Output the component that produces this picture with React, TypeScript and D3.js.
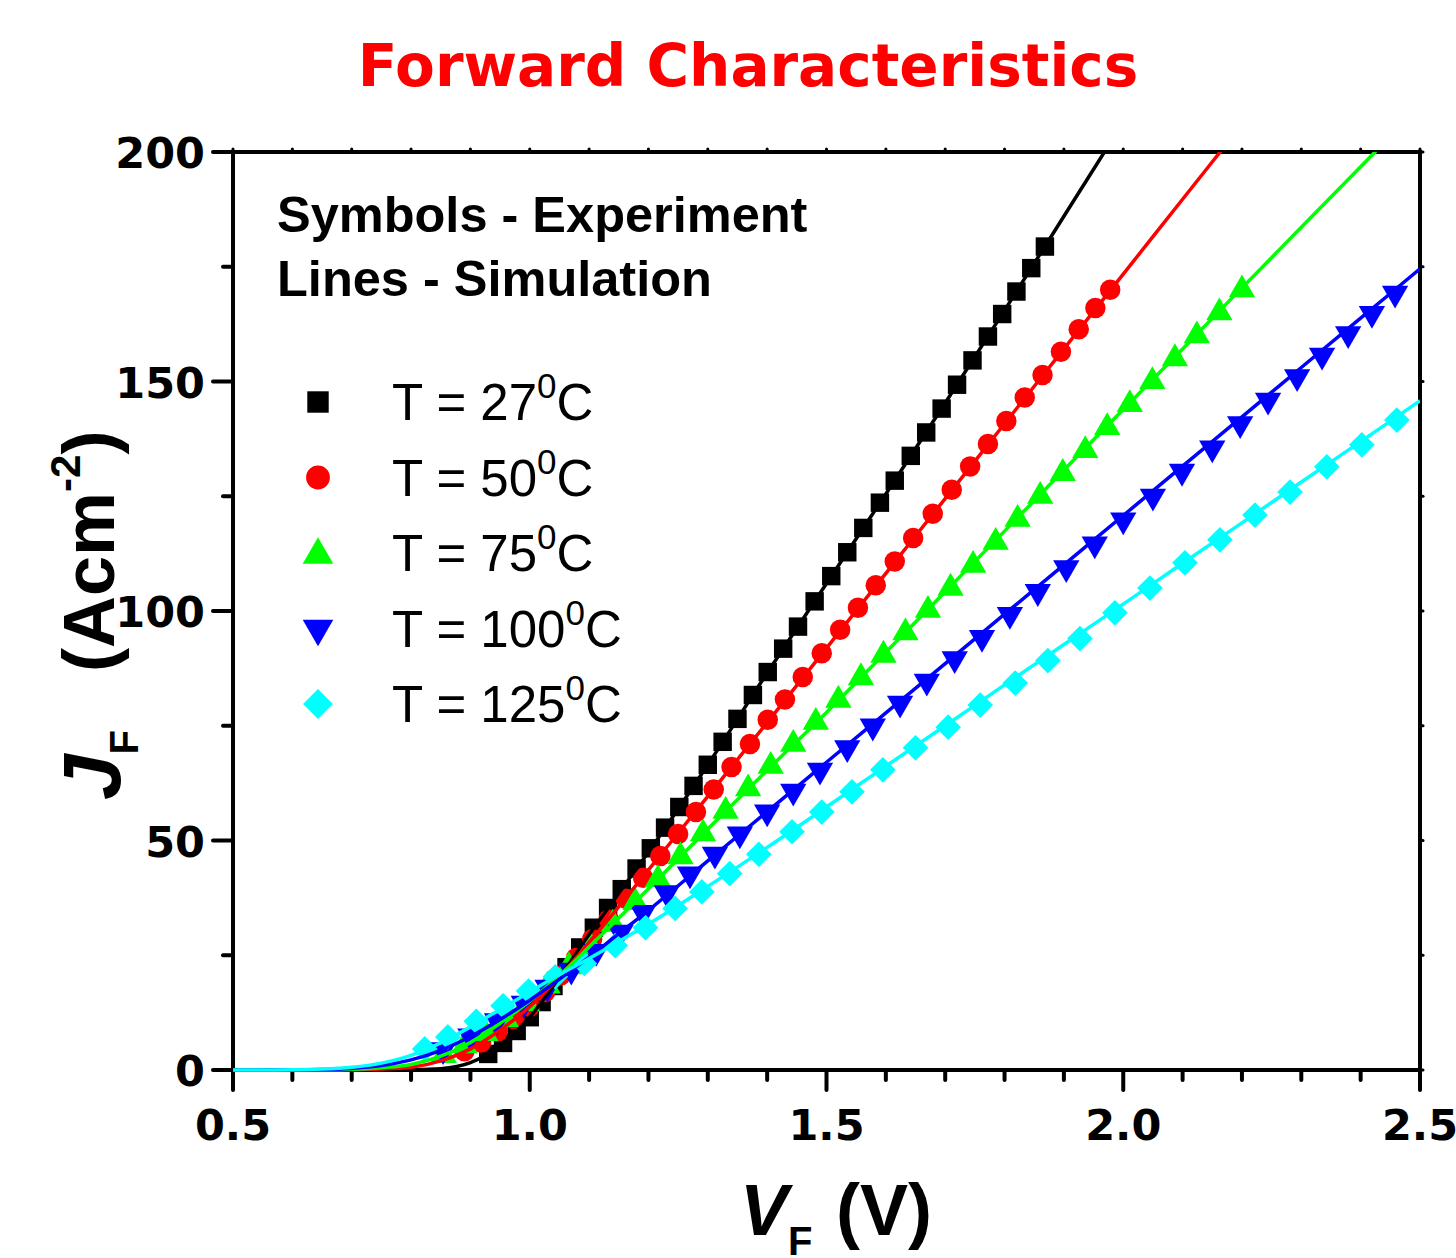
import React, { useEffect, useRef } from 'react';
import * as d3 from 'd3';

// simulation grid (V) and simulated J for each temperature
const simV = [0.5, 0.6, 0.65, 0.7, 0.75, 0.8, 0.85, 0.9, 0.95, 1.0, 1.05, 1.1, 1.15, 1.2, 1.3, 1.4, 1.5, 1.6, 1.7, 1.8, 1.9, 2.0, 2.1, 2.2, 2.3, 2.4, 2.5];
const sim27 = [0, 0, 0, 0, 0.02, 0.08, 0.3, 1.6, 5.3, 11.5, 20.2, 29.5, 38.5, 47.5, 66.5, 86.5, 106, 125.5, 145.3, 165.5, 186, 206.5, 227, 247.5, 268, 288.5, 309];
const sim50 = [0, 0, 0, 0.05, 0.2, 0.6, 2.0, 4.6, 8.7, 13.8, 20.3, 27.8, 35.6, 43.6, 59.6, 75.7, 91.9, 108.2, 124.5, 140.8, 157.1, 173.4, 189.7, 206, 222.3, 238.6, 254.9];
const sim75 = [0, 0.01, 0.05, 0.15, 0.5, 1.2, 3.0, 6.0, 10.2, 15.0, 20.6, 26.8, 33.1, 39.5, 52.5, 65.3, 77.9, 91.0, 104.2, 117.4, 130.7, 143.9, 157.1, 170.4, 183.6, 196.8, 210];
const sim100 = [0, 0.03, 0.1, 0.35, 0.95, 2.2, 4.3, 7.3, 11.0, 15.2, 19.8, 24.6, 29.7, 34.8, 45.55, 56.3, 67.05, 77.8, 88.55, 99.3, 110.05, 120.8, 131.55, 142.3, 153.05, 163.8, 174.55];
const sim125 = [0, 0.05, 0.2, 0.6, 1.5, 3.2, 5.9, 9.4, 13.2, 17.0, 20.8, 24.3, 28.0, 31.8, 40.0, 48.5, 57.3, 66.2, 75.0, 83.9, 92.7, 101.5, 110.4, 119.2, 128.1, 136.9, 145.8];

// experiment
const exp27V = [0.930, 0.955, 0.978, 1.000, 1.020, 1.040, 1.062, 1.085, 1.108, 1.132, 1.155, 1.180, 1.204, 1.228, 1.252, 1.276, 1.300, 1.325, 1.350, 1.376, 1.401, 1.427, 1.452, 1.480, 1.508, 1.535, 1.562, 1.590, 1.615, 1.642, 1.668, 1.694, 1.720, 1.746, 1.772, 1.796, 1.820, 1.845, 1.868];
const exp27J = [3.5, 5.9, 8.5, 11.5, 14.8, 18.3, 22.4, 26.7, 31.0, 35.3, 39.4, 43.9, 48.3, 52.8, 57.3, 61.9, 66.5, 71.5, 76.5, 81.7, 86.7, 91.8, 96.6, 102.1, 107.6, 112.8, 118.1, 123.6, 128.4, 133.8, 138.9, 144.1, 149.3, 154.6, 159.8, 164.7, 169.6, 174.7, 179.4];
const exp50V = [0.890, 0.918, 0.946, 0.974, 1.000, 1.026, 1.052, 1.078, 1.105, 1.133, 1.162, 1.191, 1.220, 1.250, 1.280, 1.310, 1.340, 1.371, 1.401, 1.430, 1.460, 1.492, 1.523, 1.553, 1.583, 1.615, 1.646, 1.679, 1.711, 1.742, 1.772, 1.803, 1.834, 1.864, 1.895, 1.925, 1.953, 1.978];
const exp50J = [4.1, 6.0, 8.4, 11.1, 13.8, 17.0, 20.6, 24.4, 28.5, 32.8, 37.3, 41.9, 46.6, 51.4, 56.2, 61.1, 66.0, 71.0, 76.3, 80.7, 85.6, 90.8, 95.9, 100.7, 105.6, 110.8, 115.9, 121.2, 126.4, 131.5, 136.4, 141.4, 146.5, 151.4, 156.5, 161.4, 166.0, 170.0];
const exp75V = [0.855, 0.890, 0.925, 0.960, 0.995, 1.030, 1.066, 1.102, 1.140, 1.178, 1.216, 1.254, 1.292, 1.330, 1.368, 1.406, 1.444, 1.482, 1.520, 1.558, 1.596, 1.633, 1.671, 1.709, 1.747, 1.785, 1.822, 1.860, 1.898, 1.936, 1.973, 2.011, 2.049, 2.087, 2.124, 2.162, 2.200];
const exp75J = [3.2, 5.3, 8.0, 11.0, 14.5, 18.3, 22.5, 27.0, 31.8, 36.5, 41.5, 46.5, 51.5, 56.4, 61.3, 66.2, 71.0, 75.8, 80.6, 85.5, 90.4, 95.3, 100.2, 105.0, 110.0, 115.0, 120.0, 125.0, 130.0, 135.0, 140.0, 145.0, 150.0, 155.0, 160.0, 165.0, 170.0];
const exp100V = [0.854, 0.900, 0.945, 0.990, 1.030, 1.070, 1.112, 1.153, 1.191, 1.231, 1.270, 1.312, 1.354, 1.400, 1.444, 1.489, 1.535, 1.578, 1.624, 1.669, 1.716, 1.762, 1.809, 1.856, 1.904, 1.952, 2.000, 2.050, 2.099, 2.150, 2.197, 2.244, 2.293, 2.335, 2.379, 2.419, 2.458];
const exp100J = [4.4, 7.4, 10.7, 14.5, 18.0, 21.7, 25.8, 30.0, 34.3, 38.6, 42.7, 47.0, 51.4, 56.2, 60.7, 65.3, 70.2, 74.9, 79.9, 84.7, 89.6, 94.2, 99.2, 104.2, 109.4, 114.6, 119.8, 125.0, 130.4, 135.5, 140.8, 145.9, 151.0, 155.7, 160.4, 164.8, 169.2];
const exp125V = [0.823, 0.862, 0.910, 0.955, 0.998, 1.043, 1.092, 1.144, 1.195, 1.245, 1.290, 1.337, 1.386, 1.442, 1.492, 1.543, 1.595, 1.650, 1.705, 1.759, 1.818, 1.873, 1.927, 1.986, 2.045, 2.104, 2.163, 2.222, 2.281, 2.343, 2.402, 2.461];
const exp125J = [4.6, 7.2, 10.6, 14.0, 17.2, 20.3, 23.2, 27.1, 31.0, 35.2, 38.8, 42.8, 47.0, 51.9, 56.2, 60.6, 65.4, 70.2, 74.7, 79.5, 84.3, 89.2, 94.0, 99.6, 105.0, 110.5, 115.5, 120.9, 125.9, 131.4, 136.2, 141.6];

const temps = ['27', '50', '75', '100', '125'];
const colors = ['#000000', '#ff0000', '#00ff00', '#0000ff', '#00ffff'];
const xTicks = [0.5, 1.0, 1.5, 2.0, 2.5];
const yTicks = [0, 50, 100, 150, 200];

const series = [
  { sim: sim27, v: exp27V, j: exp27J, shape: 'square' },
  { sim: sim50, v: exp50V, j: exp50J, shape: 'circle' },
  { sim: sim75, v: exp75V, j: exp75J, shape: 'up' },
  { sim: sim100, v: exp100V, j: exp100J, shape: 'down' },
  { sim: sim125, v: exp125V, j: exp125J, shape: 'diamond' },
];

function markerPath(shape, scale) {
  if (shape === 'square') return d3.symbol(d3.symbolSquare, 340 * scale)();
  if (shape === 'circle') return d3.symbol(d3.symbolCircle, 330 * scale)();
  if (shape === 'up' || shape === 'down') return d3.symbol(d3.symbolTriangle, 300 * scale)();
  return d3.symbol(d3.symbolSquare, 330 * scale)();
}
function markerRot(shape) {
  if (shape === 'down') return 180;
  if (shape === 'diamond') return 45;
  return 0;
}

export default function App() {
  const ref = useRef(null);

  useEffect(() => {
    const width = 1456, height = 1258;
    const margin = { top: 152, left: 233, right: 36, bottom: 188 };
    const svg = d3.select(ref.current).attr('width', width).attr('height', height);
    svg.selectAll('*').remove();

    const x = d3.scaleLinear().domain([0.5, 2.5]).range([margin.left, width - margin.right]);
    const y = d3.scaleLinear().domain([0, 200]).range([height - margin.bottom, margin.top]);
    const x0 = x(0.5), x1 = x(2.5), y0 = y(0), y1 = y(200);

    svg.append('defs').append('clipPath').attr('id', 'plotclip')
      .append('rect').attr('x', x0).attr('y', y1).attr('width', x1 - x0).attr('height', y0 - y1 + 2);

    // title
    svg.append('text').attr('x', 748).attr('y', 86).attr('text-anchor', 'middle')
      .attr('font-family', 'DejaVu Sans').attr('font-weight', 'bold').attr('font-size', 58)
      .attr('fill', '#ff0000').text('Forward Characteristics');

    // axes
    const ax = svg.append('g').attr('stroke', '#000').attr('stroke-linecap', 'round');
    ax.append('rect').attr('x', x0).attr('y', y1).attr('width', x1 - x0).attr('height', y0 - y1)
      .attr('fill', 'none').attr('stroke-width', 4);
    const xMinor = d3.range(0.5, 2.5001, 0.1);
    xMinor.forEach((v) => {
      const major = xTicks.some((t) => Math.abs(t - v) < 1e-6);
      ax.append('line').attr('x1', x(v)).attr('x2', x(v)).attr('y1', y0).attr('y2', y0 + (major ? 20 : 10)).attr('stroke-width', 4);
      ax.append('line').attr('x1', x(v)).attr('x2', x(v)).attr('y1', y1).attr('y2', y1 - 3).attr('stroke-width', 3);
    });
    const yMinor = d3.range(0, 200.001, 25);
    yMinor.forEach((v) => {
      const major = yTicks.includes(v);
      ax.append('line').attr('y1', y(v)).attr('y2', y(v)).attr('x1', x0).attr('x2', x0 - (major ? 20 : 10)).attr('stroke-width', 4);
      ax.append('line').attr('y1', y(v)).attr('y2', y(v)).attr('x1', x1).attr('x2', x1 + 3).attr('stroke-width', 3);
    });

    svg.append('g').selectAll('text').data(xTicks).join('text')
      .attr('x', (d) => x(d)).attr('y', 1140).attr('text-anchor', 'middle')
      .attr('font-family', 'DejaVu Sans').attr('font-weight', 'bold').attr('font-size', 43)
      .text((d) => d.toFixed(1));
    svg.append('g').selectAll('text').data(yTicks).join('text')
      .attr('x', 205).attr('y', (d) => y(d) + 16).attr('text-anchor', 'end')
      .attr('font-family', 'DejaVu Sans').attr('font-weight', 'bold').attr('font-size', 43)
      .text((d) => d);

    // axis titles
    const xt = svg.append('text').attr('x', 740).attr('y', 1235)
      .attr('font-family', 'Liberation Sans, Arial').attr('font-weight', 'bold').attr('font-size', 72);
    xt.append('tspan').attr('font-style', 'italic').text('V');
    xt.append('tspan').attr('font-size', 40).attr('dy', 20).text('F');
    xt.append('tspan').attr('x', 836).attr('dy', -20).text('(V)');

    const yt = svg.append('text').attr('transform', 'translate(120, 800) rotate(-90)')
      .attr('font-family', 'Liberation Sans, Arial').attr('font-weight', 'bold').attr('font-size', 72);
    yt.append('tspan').attr('font-style', 'italic').attr('font-size', 82).text('J');
    yt.append('tspan').attr('font-size', 40).attr('dy', 18).text('F');
    yt.append('tspan').attr('x', 128).attr('dy', -24).text('(Acm');
    yt.append('tspan').attr('font-size', 42).attr('dy', -34).text('-2');
    yt.append('tspan').attr('dy', 34).text(')');

    // notes
    svg.append('text').attr('x', 277).attr('y', 232)
      .attr('font-family', 'Liberation Sans, Arial').attr('font-weight', 'bold').attr('font-size', 50.5)
      .text('Symbols - Experiment');
    svg.append('text').attr('x', 277).attr('y', 296)
      .attr('font-family', 'Liberation Sans, Arial').attr('font-weight', 'bold').attr('font-size', 50.5)
      .text('Lines - Simulation');

    // data
    const plot = svg.append('g').attr('clip-path', 'url(#plotclip)');
    series.forEach((s, i) => {
      const pts = s.v.map((v, k) => [v, s.j[k]]);
      plot.append('g').selectAll('path').data(pts).join('path')
        .attr('d', markerPath(s.shape, 1))
        .attr('transform', (d) => `translate(${x(d[0])},${y(d[1])}) rotate(${markerRot(s.shape)})`)
        .attr('fill', colors[i]);
    });
    const line = d3.line().x((d) => x(d[0])).y((d) => y(d[1])).curve(d3.curveMonotoneX);
    series.forEach((s, i) => {
      plot.append('path').datum(simV.map((v, k) => [v, s.sim[k]]))
        .attr('d', line).attr('fill', 'none').attr('stroke', colors[i]).attr('stroke-width', 3.5);
    });

    // legend
    const lg = svg.append('g');
    temps.forEach((t, i) => {
      const cy = 402 + i * 75.5;
      lg.append('path').attr('d', markerPath(series[i].shape, 1.35))
        .attr('transform', `translate(318,${cy + (series[i].shape === 'up' ? 2 : 0)}) rotate(${markerRot(series[i].shape)})`)
        .attr('fill', colors[i]);
      const tx = lg.append('text').attr('x', 392).attr('y', cy + 18)
        .attr('font-family', 'Liberation Sans, Arial').attr('font-size', 51);
      tx.append('tspan').text(`T = ${t}`);
      tx.append('tspan').attr('font-size', 35).attr('dy', -22).text('0');
      tx.append('tspan').attr('dy', 22).text('C');
    });
  }, []);

  return (
    <div style={{ position: 'absolute', left: 0, top: 0 }}>
      <svg ref={ref}></svg>
    </div>
  );
}
